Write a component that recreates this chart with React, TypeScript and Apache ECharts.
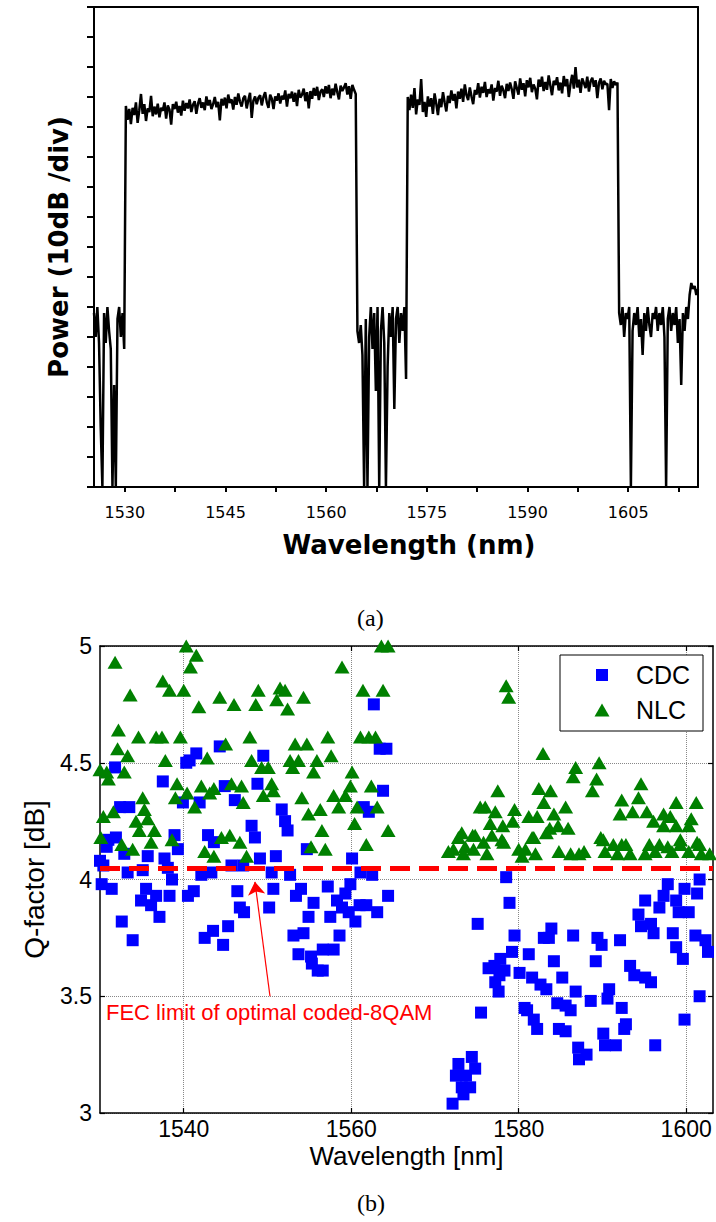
import React, { useEffect, useRef } from "react";
import * as echarts from "echarts";

// ---------------- (a) optical spectrum ----------------
const spectrumStartNm = 1525.4;
const spectrumStepNm = 0.25;
const spectrumPowerDb = [
  // floor left
  -51, -55, -50, -56, -70, -80, -51, -56, -50, -54, -57, -80, -63, -80, -52, -50, -55, -51, -57,
  // band 1
  -16.5, -18.8, -17.0, -19.5, -16.8, -18.0, -15.9, -19.3, -17.2, -14.5,
  -17.8, -16.2, -19.0, -16.9, -17.5, -14.8, -18.2, -16.6, -17.9, -16.1,
  -18.4, -16.8, -17.3, -15.9, -18.6, -16.4, -17.1, -19.6, -16.2, -17.0,
  -15.8, -17.6, -16.5, -18.1, -15.6, -17.3, -16.0, -16.9, -15.4, -17.5,
  -16.3, -15.7, -17.8, -16.1, -15.2, -16.8, -15.9, -17.2, -14.9, -16.4,
  -15.5, -17.0, -16.2, -15.0, -16.7, -15.8, -18.9, -15.3, -16.4, -15.1,
  -16.9, -14.6, -16.0, -15.4, -17.1, -15.0, -16.3, -14.4, -15.8, -16.6,
  -15.2, -14.8, -16.9, -15.5, -14.3, -18.5, -15.6, -14.9, -16.2, -15.1,
  -14.7, -16.4, -15.0, -14.2, -15.9, -16.8, -14.6, -15.3, -17.0, -14.9,
  -15.6, -14.4, -16.1, -14.8, -15.4, -13.9, -16.6, -14.5, -15.2, -14.1,
  -15.8, -14.3, -16.5, -13.8, -15.1, -14.6, -13.6, -15.7, -14.2, -16.9,
  -14.0, -15.3, -13.5, -14.8, -13.3, -15.5, -14.1, -13.7, -15.0, -13.2,
  -14.4, -13.0, -15.2, -13.6, -14.7, -12.8, -14.2, -15.4, -13.1, -14.0,
  -13.4, -12.7, -14.6, -13.2, -15.3, -13.0, -13.8, -14.5,
  // gap floor
  -54, -56, -53, -58, -80, -52, -80, -55, -50, -57, -51, -64, -50, -80, -54,
  -50, -56, -80, -60, -51, -55, -50, -67, -52, -50, -56, -51, -54, -50, -62,
  // band 2
  -15.0, -17.2, -14.6, -16.8, -13.5, -17.9, -15.4, -16.3, -12.0, -17.5,
  -15.8, -18.3, -14.9, -16.6, -15.2, -17.8, -14.4, -16.1, -18.0, -15.3,
  -16.7, -14.2, -15.9, -17.4, -14.8, -16.0, -13.9, -15.6, -14.5, -16.9,
  -14.1, -15.3, -13.6, -15.8, -12.9, -14.7, -15.5, -13.4, -14.9, -16.2,
  -13.8, -14.6, -12.7, -15.1, -13.3, -14.3, -12.5, -15.0, -13.7, -14.4,
  -12.9, -15.6, -13.5, -14.1, -12.3, -14.8, -13.1, -13.9, -15.2, -12.8,
  -14.0, -12.6, -13.7, -15.3, -12.4, -13.5, -14.6, -11.9, -13.8, -12.7,
  -14.9, -12.2, -13.4, -11.8, -14.2, -12.9, -13.6, -15.4, -12.1, -13.3,
  -11.6, -14.0, -12.5, -13.8, -11.4, -13.1, -14.7, -12.3, -13.0, -11.7,
  -13.9, -12.6, -14.4, -11.5, -13.2, -12.0, -15.0, -12.8, -11.3, -13.6,
  -10.0, -13.4, -12.1, -14.3, -11.9, -12.7, -13.5, -11.6, -14.1, -12.4,
  -11.8, -13.3, -12.2, -15.2, -12.6, -11.9, -13.7, -12.3, -12.9, -12.8,
  -17.2, -12.0, -13.5, -12.4, -13.0, -12.6,
  // floor right
  -51, -53, -50, -55, -51, -52, -50, -80, -54, -51, -53, -50, -55, -52, -58, -51,
  -54, -50, -53, -55, -51, -52, -50, -54, -51, -53, -50, -55, -80, -52, -50, -54,
  -51, -53, -50, -56, -52, -63, -51, -54, -50, -52, -48, -46, -47, -46.5, -48, -47,
];
const spectrumLabelTicks = [1530, 1545, 1560, 1575, 1590, 1605];
const spectrumTickMarks = [1530, 1537.5, 1545, 1552.5, 1560, 1567.5, 1575, 1582.5, 1590, 1597.5, 1605, 1612.5];

// ---------------- (b) Q-factor vs wavelength ----------------
const qTickValues = [1540, 1560, 1580, 1600];
const cdcPoints = [
  [1531.8, 4.48], [1537.5, 4.42], [1540.3, 4.5], [1540.7, 4.51], [1541.5, 4.54], [1544.3, 4.57], [1544.9, 4.4], [1546.1, 4.34], [1548.8, 4.41],
  [1532.4, 4.31], [1533.5, 4.31], [1539.9, 4.33], [1541.9, 4.33],
  [1531.0, 4.17], [1531.9, 4.18], [1530.8, 4.14], [1532.9, 4.11], [1535.7, 4.1], [1538.9, 4.19], [1539.3, 4.13], [1542.9, 4.19], [1543.6, 4.16], [1548.1, 4.23], [1548.5, 4.18],
  [1530.0, 4.08], [1530.4, 4.06], [1533.3, 4.03], [1535.1, 4.04], [1537.7, 4.09], [1538.1, 4.05], [1538.6, 4.0], [1542.1, 4.02], [1543.3, 4.03], [1545.7, 4.06], [1547.1, 4.06],
  [1530.2, 3.98], [1531.4, 3.96], [1535.5, 3.96], [1536.7, 3.93], [1534.9, 3.91], [1536.1, 3.89], [1538.3, 3.93], [1537.1, 3.84], [1540.5, 3.93], [1541.2, 3.95], [1546.4, 3.95], [1546.7, 3.88], [1547.2, 3.86],
  [1532.6, 3.82], [1533.9, 3.74], [1545.3, 3.8], [1543.5, 3.78], [1542.5, 3.75], [1544.7, 3.72],
  [1562.7, 4.75], [1563.4, 4.56], [1564.2, 4.56], [1549.5, 4.53], [1563.8, 4.38],
  [1551.7, 4.3], [1552.1, 4.25], [1552.4, 4.21], [1561.5, 4.31], [1562.1, 4.29],
  [1554.7, 4.13], [1549.1, 4.09], [1551.0, 4.1], [1560.1, 4.09],
  [1550.5, 4.03], [1552.7, 4.02], [1561.1, 4.03], [1562.5, 4.02],
  [1550.7, 3.96], [1554.0, 3.96], [1557.2, 3.97], [1559.9, 3.98], [1553.4, 3.93], [1555.5, 3.9], [1559.3, 3.94], [1564.4, 3.93],
  [1550.2, 3.88], [1558.3, 3.91], [1561.0, 3.89], [1561.8, 3.89], [1558.9, 3.88], [1563.1, 3.86], [1554.9, 3.84], [1557.5, 3.84], [1559.7, 3.86], [1560.5, 3.82],
  [1553.1, 3.76], [1554.3, 3.77], [1558.6, 3.76], [1553.7, 3.68], [1555.2, 3.67], [1556.6, 3.7], [1557.9, 3.7], [1555.3, 3.64], [1556.0, 3.61], [1556.6, 3.61],
  [1578.5, 4.01], [1578.9, 3.9], [1575.1, 3.81], [1579.5, 3.76], [1583.9, 3.79], [1583.0, 3.75], [1583.6, 3.75], [1586.5, 3.76], [1579.2, 3.69], [1581.2, 3.68], [1577.8, 3.66], [1584.2, 3.65],
  [1576.4, 3.62], [1577.1, 3.63], [1578.3, 3.61], [1577.7, 3.59], [1580.1, 3.6], [1581.6, 3.58], [1585.2, 3.58], [1577.2, 3.56], [1582.6, 3.55], [1577.6, 3.52], [1583.3, 3.53], [1586.8, 3.52],
  [1575.5, 3.43], [1580.7, 3.45], [1581.0, 3.44], [1584.6, 3.47], [1585.6, 3.46], [1586.2, 3.44], [1581.8, 3.4], [1582.2, 3.36], [1584.8, 3.36], [1585.6, 3.35], [1587.1, 3.28], [1587.2, 3.23],
  [1574.4, 3.24], [1572.8, 3.21], [1574.8, 3.19], [1572.5, 3.16], [1573.7, 3.16], [1573.2, 3.11], [1574.2, 3.11], [1573.4, 3.08], [1572.1, 3.04],
  [1601.6, 4.0], [1597.8, 3.98], [1599.8, 3.96], [1601.3, 3.94], [1597.3, 3.93], [1595.1, 3.91], [1598.8, 3.91], [1596.8, 3.88], [1599.1, 3.86], [1600.3, 3.86],
  [1594.3, 3.85], [1594.6, 3.8], [1595.8, 3.81], [1596.1, 3.77], [1598.4, 3.77], [1601.1, 3.76], [1602.3, 3.74], [1589.4, 3.75], [1589.9, 3.72], [1592.1, 3.74],
  [1598.8, 3.71], [1602.6, 3.69], [1599.6, 3.66], [1589.2, 3.65], [1593.3, 3.63], [1593.8, 3.59], [1595.1, 3.58], [1595.8, 3.56], [1590.8, 3.53], [1588.6, 3.48],
  [1590.6, 3.49], [1592.3, 3.45], [1601.6, 3.5], [1599.8, 3.4], [1592.8, 3.38], [1592.6, 3.36], [1590.1, 3.34], [1588.1, 3.25], [1590.3, 3.29], [1591.6, 3.29], [1596.3, 3.29],
];
const nlcPoints = [
  [1531.8, 4.93], [1540.3, 5.0], [1541.5, 4.96], [1540.8, 4.91], [1537.5, 4.85], [1538.3, 4.81], [1540.0, 4.81], [1533.6, 4.79], [1541.8, 4.74], [1544.3, 4.78], [1546.0, 4.75], [1548.9, 4.81], [1548.6, 4.75],
  [1532.2, 4.64], [1534.6, 4.61], [1536.7, 4.61], [1537.4, 4.61], [1539.6, 4.61], [1547.9, 4.61], [1532.1, 4.56], [1533.3, 4.53], [1545.0, 4.58], [1537.8, 4.51], [1542.8, 4.52], [1548.1, 4.51],
  [1530.0, 4.47], [1530.8, 4.46], [1531.0, 4.43], [1532.9, 4.46], [1539.2, 4.41], [1542.1, 4.4], [1543.6, 4.39], [1545.7, 4.41], [1546.9, 4.4], [1535.1, 4.35], [1539.0, 4.35], [1540.4, 4.37], [1543.1, 4.37],
  [1541.3, 4.31], [1535.3, 4.3], [1547.1, 4.33], [1531.6, 4.29], [1530.4, 4.27], [1534.3, 4.25], [1535.7, 4.26], [1534.7, 4.21], [1536.5, 4.21], [1530.1, 4.18], [1532.6, 4.15], [1533.9, 4.13],
  [1536.1, 4.16], [1538.6, 4.17], [1544.5, 4.18], [1545.5, 4.19], [1546.7, 4.16], [1542.5, 4.12], [1543.6, 4.1], [1547.5, 4.1],
  [1563.6, 5.0], [1564.4, 5.0], [1558.9, 4.91], [1551.5, 4.82], [1552.1, 4.81], [1551.1, 4.77], [1554.3, 4.78], [1552.4, 4.73], [1561.4, 4.81], [1563.8, 4.81],
  [1553.3, 4.58], [1554.7, 4.58], [1557.2, 4.61], [1561.1, 4.61], [1562.1, 4.61], [1562.9, 4.61], [1549.3, 4.48], [1550.1, 4.48], [1552.7, 4.51], [1553.7, 4.51],
  [1553.0, 4.48], [1555.9, 4.51], [1557.6, 4.53], [1555.5, 4.46], [1560.1, 4.46], [1550.5, 4.41], [1549.5, 4.36], [1550.7, 4.38], [1554.1, 4.35], [1557.9, 4.36],
  [1559.9, 4.4], [1559.3, 4.36], [1562.4, 4.4],
  [1554.9, 4.28], [1556.3, 4.3], [1558.5, 4.31], [1560.7, 4.31], [1563.1, 4.31], [1556.5, 4.21], [1560.4, 4.24], [1564.4, 4.21], [1555.2, 4.14], [1556.9, 4.13], [1561.8, 4.15],
  [1578.5, 4.83], [1578.8, 4.78], [1582.9, 4.54], [1586.8, 4.48], [1586.5, 4.44], [1577.5, 4.38], [1582.4, 4.39], [1583.8, 4.38],
  [1575.4, 4.31], [1576.0, 4.31], [1577.2, 4.29], [1579.5, 4.3], [1581.2, 4.27], [1582.2, 4.27], [1583.0, 4.33], [1584.2, 4.28], [1585.6, 4.31], [1576.6, 4.24],
  [1578.1, 4.23], [1579.3, 4.25], [1583.7, 4.22], [1584.7, 4.23], [1585.9, 4.22], [1573.2, 4.2], [1574.8, 4.19], [1576.8, 4.19], [1581.6, 4.18], [1578.2, 4.16],
  [1575.8, 4.16], [1572.2, 4.13], [1573.6, 4.14], [1574.6, 4.13], [1580.0, 4.13], [1580.8, 4.13], [1571.6, 4.12], [1573.4, 4.11], [1576.2, 4.11], [1580.4, 4.1],
  [1582.0, 4.11], [1584.8, 4.12], [1586.2, 4.11], [1587.2, 4.11],
  [1589.6, 4.5], [1589.3, 4.43], [1588.8, 4.38], [1594.6, 4.41], [1594.3, 4.35], [1592.3, 4.34], [1598.8, 4.33], [1601.2, 4.33], [1592.1, 4.28], [1593.6, 4.29],
  [1595.3, 4.29], [1597.3, 4.28], [1596.1, 4.25], [1598.1, 4.27], [1600.6, 4.26], [1597.3, 4.23], [1598.8, 4.23], [1600.3, 4.23], [1589.8, 4.18], [1591.3, 4.15],
  [1592.3, 4.15], [1595.6, 4.15], [1596.8, 4.15], [1599.3, 4.15], [1601.3, 4.16],
  [1587.8, 4.12], [1590.1, 4.17], [1592.8, 4.15], [1590.3, 4.12], [1591.8, 4.11], [1593.3, 4.11], [1595.1, 4.11], [1596.3, 4.12], [1597.8, 4.14], [1599.3, 4.17],
  [1598.3, 4.12], [1600.3, 4.12], [1601.6, 4.15], [1601.8, 4.11], [1602.8, 4.11],
  [1572.8, 4.18], [1574.5, 4.19], [1578.0, 4.17], [1581.8, 4.18], [1583.3, 4.2],
];
const fecLimitDb = 4.05;
const fecArrowFrom = [1550.3, 3.5];
const fecArrowTo = [1548.5, 3.99];
const legendNames = ["CDC", "NLC"];

const SANS = "Liberation Sans, Arial, sans-serif";
const BOLD = "DejaVu Sans, sans-serif";
const plain = (v: number) => String(v);

export default function App() {
  const ref = useRef<HTMLDivElement>(null);

  useEffect(() => {
    if (!ref.current) return;
    const chart = echarts.init(ref.current, null, { renderer: "svg" });
    const spectrumData = spectrumPowerDb.map((p, i) => [spectrumStartNm + i * spectrumStepNm, p]);

    const black = { color: "#000" };
    const option: any = {
      animation: false,
      backgroundColor: "#fff",
      grid: [
        { left: 94, top: 7, width: 604, height: 480 },
        { left: 100, top: 646, width: 613, height: 467 },
      ],
      xAxis: [
        {
          gridIndex: 0, type: "value", min: 1525.4, max: 1615.4, position: "bottom",
          axisLine: { onZero: false, lineStyle: { ...black, width: 2 } },
          axisTick: { show: true, inside: false, length: 5, customValues: spectrumTickMarks, lineStyle: { ...black, width: 2 } },
          axisLabel: { customValues: spectrumLabelTicks, formatter: plain, margin: 17, color: "#000", fontFamily: BOLD, fontSize: 16 },
          splitLine: { show: false },
          name: "Wavelength (nm)", nameLocation: "middle", nameGap: 45,
          nameTextStyle: { color: "#000", fontFamily: BOLD, fontWeight: "bold", fontSize: 26, padding: [0, 0, 0, 26] },
        },
        {
          gridIndex: 0, type: "value", min: 1525.4, max: 1615.4, position: "top",
          axisLine: { onZero: false, lineStyle: { ...black, width: 2 } },
          axisTick: { show: false }, axisLabel: { show: false }, splitLine: { show: false },
        },
        {
          gridIndex: 1, type: "value", min: 1530, max: 1603.2, position: "bottom",
          axisLine: { onZero: false, lineStyle: { ...black, width: 1.5 } },
          axisTick: { show: true, inside: true, length: 5, customValues: qTickValues, lineStyle: { ...black, width: 1.2 } },
          axisLabel: { customValues: qTickValues, formatter: plain, margin: 4, color: "#000", fontFamily: SANS, fontSize: 23 },
          splitLine: { show: true, lineStyle: { color: "#888", width: 1, type: "dotted" } },
          name: "Wavelength [nm]", nameLocation: "middle", nameGap: 30,
          nameTextStyle: { color: "#000", fontFamily: SANS, fontSize: 26 },
        },
        {
          gridIndex: 1, type: "value", min: 1530, max: 1603.2, position: "top",
          axisLine: { onZero: false, lineStyle: { ...black, width: 1.5 } },
          axisTick: { show: true, inside: true, length: 5, customValues: qTickValues, lineStyle: { ...black, width: 1.2 } },
          axisLabel: { show: false }, splitLine: { show: false },
        },
      ],
      yAxis: [
        {
          gridIndex: 0, type: "value", min: -80, max: 0, interval: 5, position: "left",
          axisLine: { onZero: false, lineStyle: { ...black, width: 2 } },
          axisTick: { show: true, inside: false, length: 7, lineStyle: { ...black, width: 2 } },
          axisLabel: { show: false }, splitLine: { show: false },
          name: "Power (10dB /div)", nameLocation: "middle", nameGap: 22,
          nameTextStyle: { color: "#000", fontFamily: BOLD, fontWeight: "bold", fontSize: 26 },
        },
        {
          gridIndex: 0, type: "value", min: -80, max: 0, interval: 5, position: "right",
          axisLine: { onZero: false, lineStyle: { ...black, width: 2 } },
          axisTick: { show: false }, axisLabel: { show: false }, splitLine: { show: false },
        },
        {
          gridIndex: 1, type: "value", min: 3, max: 5, interval: 0.5, position: "left",
          axisLine: { onZero: false, lineStyle: { ...black, width: 1.5 } },
          axisTick: { show: true, inside: true, length: 5, lineStyle: { ...black, width: 1.2 } },
          axisLabel: { formatter: plain, margin: 8, color: "#000", fontFamily: SANS, fontSize: 23 },
          splitLine: { show: true, lineStyle: { color: "#888", width: 1, type: "dotted" } },
          name: "Q-factor [dB]", nameLocation: "middle", nameGap: 52,
          nameTextStyle: { color: "#000", fontFamily: SANS, fontSize: 28 },
        },
        {
          gridIndex: 1, type: "value", min: 3, max: 5, interval: 0.5, position: "right",
          axisLine: { onZero: false, lineStyle: { ...black, width: 1.5 } },
          axisTick: { show: true, inside: true, length: 5, lineStyle: { ...black, width: 1.2 } },
          axisLabel: { show: false }, splitLine: { show: false },
        },
      ],
      series: [
        {
          type: "line", xAxisIndex: 0, yAxisIndex: 0, data: spectrumData,
          showSymbol: false, symbol: "none", lineStyle: { color: "#000", width: 2.5 }, silent: true,
        },
        {
          name: legendNames[0], type: "scatter", xAxisIndex: 2, yAxisIndex: 2, data: cdcPoints,
          symbol: "rect", symbolSize: 12, itemStyle: { color: "#0000ff", opacity: 1 }, z: 2, silent: true,
        },
        {
          name: legendNames[1], type: "scatter", xAxisIndex: 2, yAxisIndex: 2, data: nlcPoints,
          symbol: "triangle", symbolSize: [15, 13], itemStyle: { color: "#008000", opacity: 1 }, z: 3, silent: true,
        },
        {
          type: "scatter", xAxisIndex: 2, yAxisIndex: 2, data: [], z: 5, silent: true,
          markLine: {
            silent: true, symbol: "none", label: { show: false },
            lineStyle: { color: "#ff0000", width: 5, type: [20, 9] },
            data: [{ yAxis: fecLimitDb }],
          },
        },
        {
          type: "scatter", xAxisIndex: 2, yAxisIndex: 2, data: [], z: 6, silent: true,
          markLine: {
            silent: true, symbolSize: 13, label: { show: false },
            lineStyle: { color: "#ff0000", width: 1.2, type: "solid" },
            data: [[{ coord: fecArrowFrom, symbol: "none" }, { coord: fecArrowTo, symbol: "arrow" }]],
          },
        },
      ],
      graphic: [
        { type: "text", left: 357, top: 606, style: { text: "(a)", font: "24px 'Liberation Serif', serif", fill: "#000" } },
        { type: "text", left: 357, top: 1191, style: { text: "(b)", font: "24px 'Liberation Serif', serif", fill: "#000" } },
        { type: "text", x: 106, y: 1012, style: { text: "FEC limit of optimal coded-8QAM", font: "22px 'Liberation Sans', Arial, sans-serif", fill: "#ff0000", verticalAlign: "middle" } },
        { type: "rect", shape: { x: 560, y: 655, width: 143, height: 76 }, style: { fill: "#fff", stroke: "#000", lineWidth: 1 }, z: 10 },
        { type: "rect", shape: { x: 596, y: 669, width: 12, height: 12 }, style: { fill: "#0000ff" }, z: 11 },
        { type: "polygon", shape: { points: [[602, 703.5], [609.5, 716.5], [594.5, 716.5]] }, style: { fill: "#008000" }, z: 11 },
        { type: "text", x: 636, y: 675, style: { text: legendNames[0], font: "25px 'Liberation Sans', Arial, sans-serif", fill: "#000", verticalAlign: "middle" }, z: 11 },
        { type: "text", x: 636, y: 710, style: { text: legendNames[1], font: "25px 'Liberation Sans', Arial, sans-serif", fill: "#000", verticalAlign: "middle" }, z: 11 },
      ],
    };
    chart.setOption(option);
    return () => chart.dispose();
  }, []);

  return (
    <div
      ref={ref}
      style={{ position: "fixed", left: 0, top: 0, width: 716, height: 1222, background: "#fff" }}
    />
  );
}
